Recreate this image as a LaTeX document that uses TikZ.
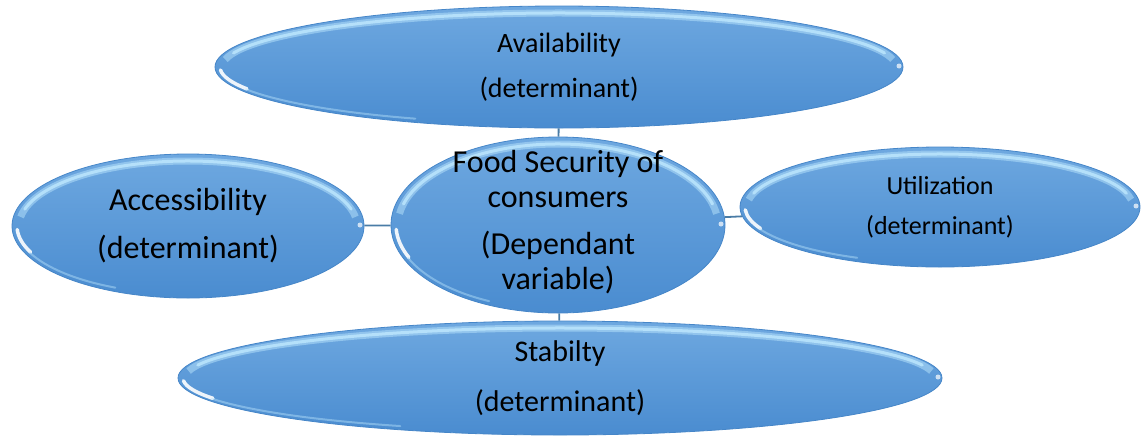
\documentclass[tikz,border=0pt]{standalone}
\usepackage{fontspec}
\setmainfont{Carlito}
\usetikzlibrary{calc, shapes.geometric}

\definecolor{bubbleTop}{RGB}{110,168,224}
\definecolor{bubbleBot}{RGB}{74,140,208}
\definecolor{bubbleEdge}{RGB}{70,134,200}
\definecolor{bubbleRim}{RGB}{185,228,252}
\definecolor{linkBlue}{RGB}{74,124,166}

\tikzset{
    bubble/.style={
        ellipse, 
        top color=bubbleTop, 
        bottom color=bubbleBot, 
        draw=bubbleEdge, 
        line width=0.8pt, 
        inner sep=0pt,
        path picture={
            % glossy band along the top
            \draw[bubbleRim, line width=7pt, opacity=0.5]
                let \p1=(path picture bounding box.center),
                    \p2=($(path picture bounding box.north east)-(\p1)$),
                    \n1={\x2-7}, \n2={\y2-7}
                in ($(\p1)+(172:\n1 and \n2)$) arc[start angle=172, end angle=8, x radius=\n1, y radius=\n2];
            \draw[bubbleRim, line width=3pt, line cap=round, opacity=0.9]
                let \p1=(path picture bounding box.center),
                    \p2=($(path picture bounding box.north east)-(\p1)$),
                    \n1={\x2-7}, \n2={\y2-7}
                in ($(\p1)+(165:\n1 and \n2)$) arc[start angle=165, end angle=15, x radius=\n1, y radius=\n2];
            % glint just under the left end
            \draw[white, line width=3.5pt, line cap=round, opacity=0.9]
                let \p1=(path picture bounding box.center),
                    \p2=($(path picture bounding box.north east)-(\p1)$),
                    \n1={\x2-5}, \n2={\y2-5}
                in ($(\p1)+(183:\n1 and \n2)$) arc[start angle=183, end angle=203, x radius=\n1, y radius=\n2];
            \draw[bubbleRim, line width=2pt, line cap=round, opacity=0.45]
                let \p1=(path picture bounding box.center),
                    \p2=($(path picture bounding box.north east)-(\p1)$),
                    \n1={\x2-4}, \n2={\y2-4}
                in ($(\p1)+(203:\n1 and \n2)$) arc[start angle=203, end angle=245, x radius=\n1, y radius=\n2];
            \fill[white, opacity=0.7]
                let \p1=(path picture bounding box.east) in (\x1-4, \y1+1) circle[radius=2.5];
        }
    },
    caption/.style={align=center, text=black, inner sep=0pt},
    link/.style={draw=linkBlue, line width=1.8pt}
}

\begin{document}
\begin{tikzpicture}[x=1pt, y=1pt]
    \useasboundingbox (0,0) rectangle (1142,-437);

    % the five ellipses
    \node[bubble, minimum width=688pt, minimum height=122pt] (avail) at (559,-67) {};
    \node[bubble, minimum width=352pt, minimum height=144pt] (access) at (188,-226) {};
    \node[bubble, minimum width=400pt, minimum height=120pt] (util) at (940,-207) {};
    \node[bubble, minimum width=764pt, minimum height=114pt] (stab) at (560,-378) {};
    \node[bubble, minimum width=334pt, minimum height=176pt] (food) at (558,-225) {};

    % connectors to the centre
    \draw[link] (food) -- (avail);
    \draw[link] (food) -- (access);
    \draw[link] (food) -- (util);
    \draw[link] (food) -- (stab);

    % texts
    \node[caption, font=\fontsize{28}{34}\selectfont] (availText) at (avail) {Availability\\[11pt](determinant)};
    \node[caption, font=\fontsize{32}{38}\selectfont] (accessText) at (access) {Accessibility\\[10pt](determinant)};
    \node[caption, font=\fontsize{26}{31}\selectfont] (utilText) at (util) {Utilization\\[9pt](determinant)};
    \node[caption, font=\fontsize{30}{36}\selectfont] (stabText) at (stab) {Stabilty\\[14pt](determinant)};
    \node[caption, font=\fontsize{32}{35}\selectfont] (foodText) at ([yshift=3pt]food) {Food Security of\\consumers\\[12pt](Dependant\\variable)};
\end{tikzpicture}
\end{document}
